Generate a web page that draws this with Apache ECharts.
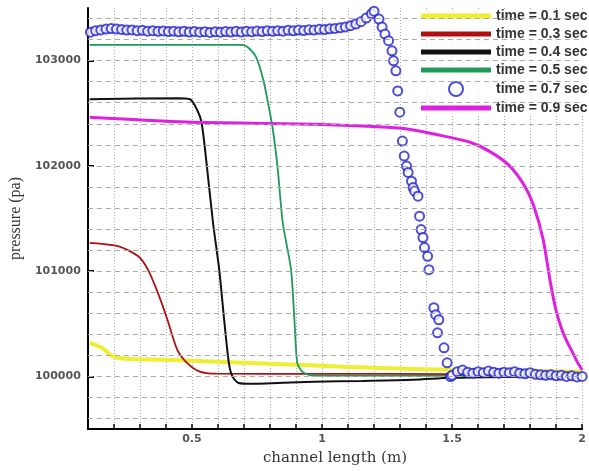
<!DOCTYPE html>
<html>
<head>
<meta charset="utf-8">
<script src="https://cdn.jsdelivr.net/npm/echarts@6/dist/echarts.min.js"></script>
<style>
html,body{margin:0;padding:0;background:#fff;}
#c{width:589px;height:471px;}
</style>
</head>
<body>
<div id="c"></div>
<script>
// ---- data (x in m, y in Pa) ----
const seriesNames = ['time = 0.1 sec','time = 0.3 sec','time = 0.4 sec','time = 0.5 sec','time = 0.7 sec','time = 0.9 sec'];
const xLabelValues = [0.5, 1, 1.5, 2];
const yLabelValues = [100000, 101000, 102000, 103000];
const yGridValues = [99600,99800,100000,100200,100400,100600,100800,101000,101200,101400,101600,101800,102000,102200,102400,102600,102800,103000,103200,103400];

const t01 = [[0.107,100319],[0.155,100271],[0.193,100195],[0.25,100167],[0.4,100157],[0.6,100138],[0.8,100119],[1.0,100100],[1.2,100081],[1.5,100062],[2.0,100043]];
const t03 = [[0.107,101269],[0.219,101236],[0.294,101141],[0.331,101014],[0.369,100795],[0.406,100538],[0.444,100252],[0.481,100129],[0.53,100046],[0.594,100026],[1.0,100024],[1.5,100022],[2.0,100020]];
const t04 = [[0.107,102633],[0.444,102643],[0.493,102633],[0.519,102538],[0.537,102414],[0.556,102033],[0.581,101462],[0.605,101014],[0.624,100538],[0.642,100129],[0.656,99998],[0.68,99937],[0.731,99929],[0.969,99950],[1.156,99957],[1.35,99967],[1.494,99986],[1.7,99995],[2.0,100000]];
const t05 = [[0.107,103150],[0.695,103150],[0.744,103046],[0.774,102824],[0.792,102605],[0.811,102348],[0.83,101967],[0.849,101462],[0.881,101014],[0.894,100538],[0.905,100129],[0.924,100046],[0.956,100010],[1.2,100004],[1.6,100004],[2.0,100005]];
const t07 = [[0.11,103270],[0.13,103285],[0.15,103292],[0.17,103300],[0.19,103305],[0.21,103300],[0.23,103296],[0.25,103290],[0.27,103292],[0.29,103285],[0.31,103288],[0.33,103280],[0.35,103284],[0.37,103278],[0.39,103282],[0.41,103276],[0.43,103280],[0.45,103274],[0.47,103279],[0.49,103272],[0.51,103277],[0.53,103270],[0.55,103275],[0.57,103268],[0.59,103274],[0.61,103270],[0.63,103276],[0.65,103271],[0.67,103278],[0.69,103272],[0.71,103279],[0.73,103274],[0.75,103281],[0.77,103276],[0.79,103283],[0.81,103278],[0.83,103285],[0.85,103280],[0.87,103288],[0.89,103283],[0.91,103290],[0.93,103286],[0.95,103293],[0.97,103290],[0.99,103297],[1.01,103295],[1.03,103302],[1.05,103306],[1.07,103312],[1.09,103320],[1.11,103332],[1.13,103348],[1.15,103370],[1.17,103405],[1.19,103445],[1.20,103470],
  [1.219,103395],[1.231,103319],[1.242,103252],[1.256,103189],[1.269,103093],[1.275,102998],[1.284,102903],[1.291,102712],[1.299,102510],[1.309,102236],[1.316,102093],[1.325,101998],[1.331,101938],[1.344,101855],[1.35,101795],[1.356,101760],[1.369,101712],[1.375,101522],[1.381,101395],[1.388,101319],[1.394,101224],[1.406,101141],[1.411,101014],[1.43,100652],[1.437,100586],[1.449,100538],[1.444,100414],[1.469,100271],[1.481,100129],[1.494,99998],
  [1.50,100010],[1.52,100045],[1.54,100060],[1.56,100040],[1.58,100030],[1.60,100045],[1.62,100035],[1.64,100050],[1.66,100040],[1.68,100030],[1.70,100040],[1.72,100035],[1.74,100045],[1.76,100030],[1.78,100025],[1.80,100035],[1.82,100020],[1.84,100015],[1.86,100010],[1.88,100015],[1.90,100005],[1.92,100010],[1.94,100000],[1.96,100005],[1.98,99995],[2.00,100000]];
const t09 = [[0.107,102462],[0.481,102417],[0.969,102395],[1.306,102357],[1.456,102290],[1.569,102224],[1.644,102138],[1.719,102005],[1.775,101824],[1.812,101633],[1.85,101300],[1.876,100919],[1.899,100633],[1.925,100424],[1.944,100319],[1.962,100233],[1.981,100138],[2.0,100062]];

const colors = ['#eeee33','#b01010','#111111','#1f9a5a','#2222cc','#e020e0'];
const widths = [4, 1.8, 2, 1.8, 0, 3];
const barIcon = 'path://M0,0 L70,0 L70,5 L0,5 Z';

const chart = echarts.init(document.getElementById('c'), null, {renderer:'canvas'});

function lineSeries(i, data) {
  return {
    name: seriesNames[i], type: 'line', data: data, showSymbol: false, symbol: 'none',
    smooth: 0.25,
    lineStyle: {color: colors[i], width: widths[i]}, itemStyle: {color: colors[i]},
    z: 3, animation: false
  };
}

const option = {
  animation: false,
  backgroundColor: '#ffffff',
  grid: {left: 82, right: 4, top: 8, bottom: 42, containLabel: false},
  legend: {
    orient: 'vertical', left: 421, top: 9,
    itemWidth: 70, itemHeight: 14, itemGap: 4,
    backgroundColor: 'rgba(255,255,255,0.75)', padding: [0,0,0,0],
    textStyle: {fontFamily: 'Liberation Sans', fontWeight: 'bold', fontSize: 14, color: '#333', lineHeight: 14},
    data: [
      {name: seriesNames[0], icon: barIcon, itemStyle: {color: colors[0], borderWidth: 0}},
      {name: seriesNames[1], icon: barIcon, itemStyle: {color: colors[1], borderWidth: 0}},
      {name: seriesNames[2], icon: barIcon, itemStyle: {color: colors[2], borderWidth: 0}},
      {name: seriesNames[3], icon: barIcon, itemStyle: {color: colors[3], borderWidth: 0}},
      {name: seriesNames[4], icon: 'emptyCircle', itemStyle: {color: colors[4]}},
      {name: seriesNames[5], icon: barIcon, itemStyle: {color: colors[5], borderWidth: 0}}
    ]
  },
  xAxis: {
    type: 'value', min: 0.1, max: 2, interval: 0.1,
    name: 'channel length (m)', nameLocation: 'middle', nameGap: 22,
    nameTextStyle: {fontFamily: 'DejaVu Serif', fontSize: 15, color: '#333'},
    axisLine: {show: true, onZero: false, lineStyle: {color: '#000', width: 2}},
    axisTick: {show: true, inside: true, length: 5, lineStyle: {color: '#000', width: 1.5}},
    axisLabel: {
      margin: 5, fontFamily: 'DejaVu Sans', fontWeight: 'bold', fontSize: 11, color: '#555',
      showMinLabel: false,
      formatter: function (v) {
        for (const t of xLabelValues) { if (Math.abs(v - t) < 1e-6) return String(t); }
        return '';
      }
    },
    splitLine: {show: true, lineStyle: {color: '#aaa', width: 1, type: [1, 2]}}
  },
  yAxis: {
    type: 'value', min: 99500, max: 103500, interval: 500,
    name: 'pressure (pa)', nameLocation: 'middle', nameGap: 58,
    nameTextStyle: {fontFamily: 'Liberation Serif', fontSize: 16, color: '#333'},
    axisLine: {show: true, lineStyle: {color: '#000', width: 2}},
    axisTick: {show: true, inside: true, length: 6, customValues: yLabelValues, lineStyle: {color: '#000', width: 2}},
    axisLabel: {
      margin: 7, fontFamily: 'DejaVu Sans', fontWeight: 'bold', fontSize: 11, color: '#555',
      customValues: yLabelValues,
      formatter: function (v) { return yLabelValues.indexOf(v) >= 0 ? String(v) : ''; }
    },
    splitLine: {show: false}
  },
  series: [
    {
      name: 'grid', type: 'line', data: [], z: 1, silent: true,
      markLine: {
        silent: true, symbol: ['none','none'], label: {show: false}, animation: false,
        lineStyle: {color: '#aaa', width: 1, type: [5, 4]},
        data: yGridValues.map(v => ({yAxis: v}))
      }
    },
    lineSeries(0, t01),
    lineSeries(1, t03),
    lineSeries(2, t04),
    lineSeries(3, t05),
    {
      name: seriesNames[4], type: 'scatter', data: t07,
      symbol: 'emptyCircle', symbolSize: 9,
      itemStyle: {color: colors[4], borderColor: colors[4], borderWidth: 1.6},
      z: 4, animation: false
    },
    lineSeries(5, t09)
  ]
};
chart.setOption(option);
</script>
</body>
</html>
